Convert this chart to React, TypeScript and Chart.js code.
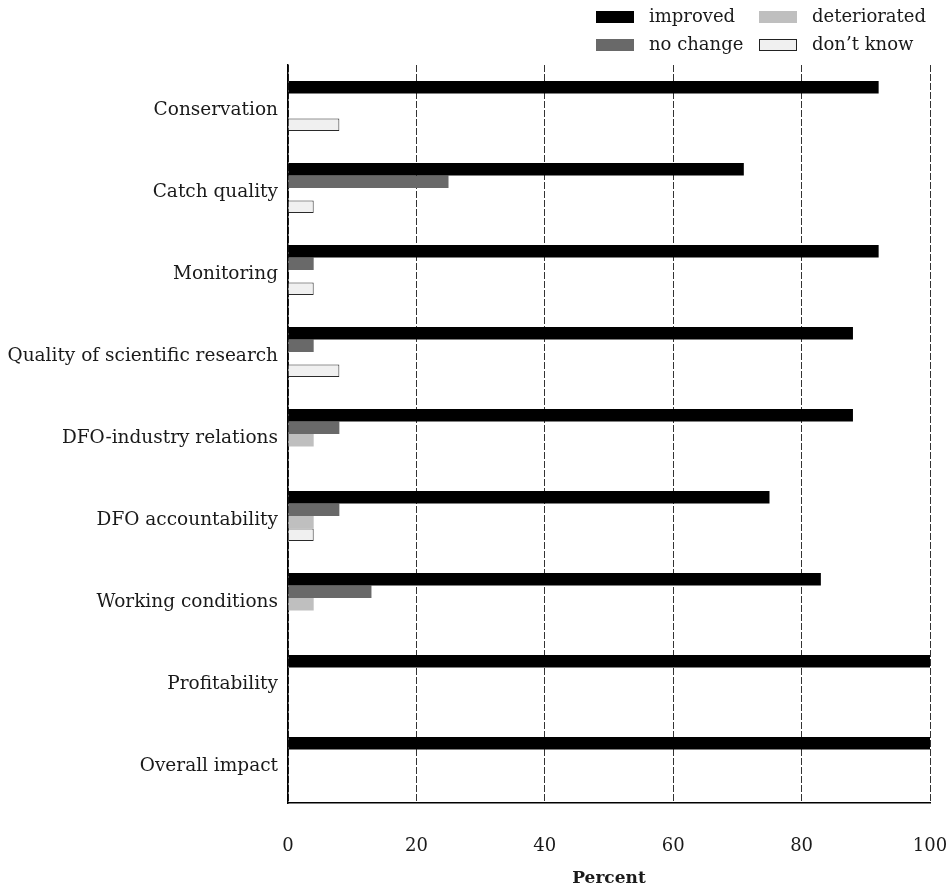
import React, { useEffect, useRef } from "react";
import { Chart, registerables } from "chart.js";

Chart.register(...registerables);

const categories = [
  "Conservation",
  "Catch quality",
  "Monitoring",
  "Quality of scientific research",
  "DFO-industry relations",
  "DFO accountability",
  "Working conditions",
  "Profitability",
  "Overall impact",
];

const improved = [92, 71, 92, 88, 88, 75, 83, 100, 100];
const noChange = [0, 25, 4, 4, 8, 8, 13, 0, 0];
const deteriorated = [0, 0, 0, 0, 4, 4, 4, 0, 0];
const dontKnow = [8, 4, 4, 8, 0, 4, 0, 0, 0];

const seriesNames = ["improved", "no change", "deteriorated", "don\u2019t know"];
const xTicks = [0, 20, 40, 60, 80, 100];

const FONT = "'DejaVu Serif', serif";
const TEXT = "#1a1a1a";

const legendPlugin = {
  id: "gridLegend",
  afterDraw(chart: any) {
    const ctx = chart.ctx;
    const items = chart.data.datasets;
    const order = [
      { ds: 0, col: 0, row: 0 },
      { ds: 2, col: 1, row: 0 },
      { ds: 1, col: 0, row: 1 },
      { ds: 3, col: 1, row: 1 },
    ];
    const colX = [596, 759];
    const rowY = [17, 45];
    ctx.save();
    ctx.font = `18px ${FONT}`;
    ctx.textBaseline = "middle";
    ctx.textAlign = "left";
    for (const o of order) {
      const d = items[o.ds];
      const x = colX[o.col];
      const y = rowY[o.row];
      ctx.fillStyle = d.backgroundColor;
      ctx.fillRect(x, y - 6, 38, 12);
      if (o.ds === 3) {
        ctx.strokeStyle = "#222";
        ctx.lineWidth = 1;
        ctx.strokeRect(x + 0.5, y - 5.5, 37, 11);
      }
      ctx.fillStyle = TEXT;
      ctx.fillText(d.label, x + 53, y);
    }
    ctx.restore();
  },
};

export default function App() {
  const ref = useRef<HTMLCanvasElement | null>(null);
  useEffect(() => {
    if (!ref.current) return;
    const chart = new Chart(ref.current, {
      type: "bar",
      data: {
        labels: categories,
        datasets: [
          { label: seriesNames[0], data: improved, backgroundColor: "#000000", borderColor: "#000000", borderWidth: 0 },
          { label: seriesNames[1], data: noChange, backgroundColor: "#696969", borderColor: "#696969", borderWidth: 0 },
          { label: seriesNames[2], data: deteriorated, backgroundColor: "#bfbfbf", borderColor: "#bfbfbf", borderWidth: 0 },
          { label: seriesNames[3], data: dontKnow, backgroundColor: "#f0f0f0", borderColor: "#2a2a2a", borderWidth: 1 },
        ],
      },
      options: {
        indexAxis: "y",
        responsive: false,
        animation: false,
        devicePixelRatio: 1,
        layout: { padding: { top: 65, right: 22, left: 0, bottom: 0 } },
        datasets: { bar: { categoryPercentage: 0.61, barPercentage: 1 } },
        plugins: {
          legend: { display: false },
          tooltip: { enabled: false },
        },
        scales: {
          x: {
            type: "linear",
            min: 0,
            max: 100,
            afterBuildTicks: (s: any) => {
              s.ticks = xTicks.map((v) => ({ value: v }));
            },
            ticks: { padding: 33, color: TEXT, font: { family: FONT, size: 18 } },
            grid: { color: "#333333", lineWidth: 1, drawTicks: false },
            border: { display: true, color: "#000000", width: 1.5, dash: [7, 2] },
            title: {
              display: true,
              text: "Percent",
              color: TEXT,
              font: { family: FONT, size: 17, weight: "bold" },
              padding: { top: 0, bottom: 2 },
            },
            afterFit: (s: any) => {
              s.height = 88;
              s.paddingLeft = 0;
              s.paddingRight = 0;
            },
          },
          y: {
            grid: { display: false, drawTicks: false },
            border: { display: true, color: "#000000", width: 1.5 },
            ticks: { padding: 10, labelOffset: 4, color: TEXT, font: { family: FONT, size: 18.5 } },
            afterFit: (s: any) => {
              s.width = 288;
            },
          },
        },
      },
      plugins: [legendPlugin],
    } as any);
    return () => chart.destroy();
  }, []);
  return (
    <div style={{ position: "absolute", left: 0, top: 0, width: 952, height: 891, background: "#fff" }}>
      <canvas ref={ref} width={952} height={891} style={{ display: "block" }} />
    </div>
  );
}
